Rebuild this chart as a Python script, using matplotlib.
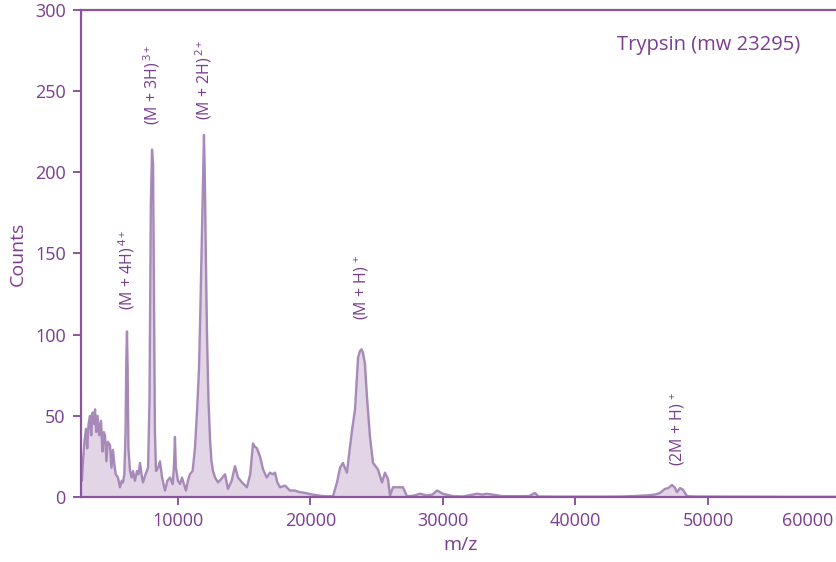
import matplotlib
matplotlib.use("Agg")
import matplotlib.pyplot as plt
import numpy as np

plt.rcParams['font.family'] = ['Open Sans', 'DejaVu Sans']
plt.rcParams['mathtext.fontset'] = 'custom'
plt.rcParams['mathtext.rm'] = 'Open Sans'
plt.rcParams['mathtext.it'] = 'Open Sans'

PURPLE = '#7a3d8f'
SPINE = '#8a559e'

# trypsin spectrum, m/z vs counts
mz = [2680, 2750, 2830, 2950, 3060, 3150, 3250, 3360, 3450, 3550,
      3650, 3740, 3830, 3930, 4050, 4190, 4300, 4400, 4490, 4600,
      4700, 4870, 4980, 5090, 5200, 5300, 5470, 5620, 5750, 5850,
      5950, 6040, 6100, 6150, 6200, 6260, 6380, 6500, 6600, 6750,
      6900, 7020, 7130, 7250, 7360, 7550, 7740, 7850, 7950, 8040,
      8120, 8190, 8260, 8340, 8500, 8640, 8800, 9020, 9200, 9400,
      9600, 9700, 9770, 9840, 10000, 10150, 10300, 10450, 10600, 10750,
      10900, 11100, 11280, 11450, 11590, 11700, 11810, 11900, 11960, 12020,
      12100, 12190, 12300, 12420, 12530, 12640, 12800, 13020, 13250, 13550,
      13770, 14050, 14300, 14530, 14830, 15200, 15450, 15660, 15800, 15960,
      16190, 16420, 16700, 16940, 17150, 17320, 17500, 17700, 18080, 18450,
      18800, 19200, 19600, 19960, 20400, 20720, 21200, 21700, 22000, 22230,
      22450, 22750, 23130, 23360, 23590, 23740, 23850, 23960, 24110, 24260,
      24490, 24720, 25090, 25400, 25620, 25850, 26000, 26230, 26600, 26980,
      27280, 27800, 28260, 28790, 29200, 29550, 30000, 30750, 31500, 32570,
      33000, 33320, 34500, 35500, 36500, 36940, 37200, 39000, 41850, 43500,
      44500, 45400, 46000, 46380, 46750, 47000, 47280, 47480, 47660, 47890,
      48110, 48420, 49000, 52000, 56000, 60000]
counts = [18, 10, 22, 35, 42, 30, 45, 50, 38, 52,
          45, 54, 40, 50, 38, 47, 28, 40, 38, 22,
          34, 32, 18, 29, 20, 14, 12, 6, 10, 9,
          14, 40, 85, 102, 80, 30, 16, 12, 16, 10,
          16, 14, 21, 14, 9, 14, 18, 60, 180, 214,
          205, 120, 40, 16, 18, 22, 12, 4, 10, 12,
          8, 20, 37, 18, 10, 8, 12, 8, 4, 10,
          14, 16, 30, 55, 80, 120, 165, 205, 223, 200,
          150, 100, 60, 35, 22, 16, 12, 9, 11, 14,
          5, 10, 19, 12, 9, 6, 14, 33, 31, 30,
          25, 17, 12, 15, 14, 15, 9, 6, 7, 4,
          4, 3, 2.5, 1.8, 1.2, 0.8, 0.4, 0.5, 9, 18,
          21, 15, 41, 54, 86, 90, 91, 89, 82, 62,
          37, 21, 17, 9, 15, 11, 1, 6, 6, 6,
          0.5, 0.8, 2, 1, 1.5, 4, 2, 0.5, 0.3, 2,
          1.5, 2, 0.5, 0.5, 0.6, 2.5, 0.3, 0.2, 0.2, 0.3,
          0.6, 1, 1.5, 2.5, 5, 5.5, 7.4, 6, 3, 5.5,
          4.5, 0.5, 0.3, 0.2, 0.1, 0.1]

# peak assignments: main text, charge, m/z, label height
peak_names = ['(M + 4H)', '(M + 3H)', '(M + 2H)', '(M + H)', '(2M + H)']
peak_charges = ['4+', '3+', '2+', '+', '+']
peak_mz = [6150, 8040, 11960, 23850, 47700]
label_y = [115, 229, 232, 109, 19]

x = np.array(mz)
y = np.array(counts)

fig = plt.figure(figsize=(8.37, 5.62), dpi=100)
ax = fig.add_axes([81 / 837, 65 / 562, 759.5 / 837, 487 / 562])

ax.fill_between(x, 0, y, color='#84539a', alpha=0.24, lw=0)
ax.plot(x, y, color='#9f7fb2', lw=1.7, alpha=0.9)

ax.set_xlim(2680, 60000)
ax.set_ylim(0, 300)

for side in ['left', 'bottom', 'top']:
    ax.spines[side].set_color(SPINE)
    ax.spines[side].set_linewidth(1.6)
ax.spines['right'].set_visible(False)

ax.set_yticks([0, 50, 100, 150, 200, 250, 300])
ax.set_xticks([10000, 20000, 30000, 40000, 50000, 60000])
ax.set_xticklabels(['10000', '20000', '30000', '40000', '50000', ''])
ax.annotate('60000', xy=(60000, 0), xycoords=('data', 'axes fraction'),
            xytext=(-5, -10.5), textcoords='offset points',
            ha='right', va='top', fontsize=13, color=PURPLE)
ax.tick_params(axis='both', colors=SPINE, labelcolor=PURPLE, labelsize=13,
               length=6, width=1.4, pad=5)

ax.set_xlabel('m/z', fontsize=14, color=PURPLE, labelpad=4)
ax.set_ylabel('Counts', fontsize=14, color=PURPLE, labelpad=6)

ax.text(0.9467, 0.928, 'Trypsin (mw 23295)', transform=ax.transAxes,
        ha='right', va='center', fontsize=14.5, color=PURPLE)

for name, charge, px, ly in zip(peak_names, peak_charges, peak_mz, label_y):
    ax.text(px, ly, name + r'$^{\,' + charge + '}$', rotation=90,
            ha='center', va='bottom', fontsize=11.5, color=PURPLE)

fig.savefig('out.png', dpi=100)
